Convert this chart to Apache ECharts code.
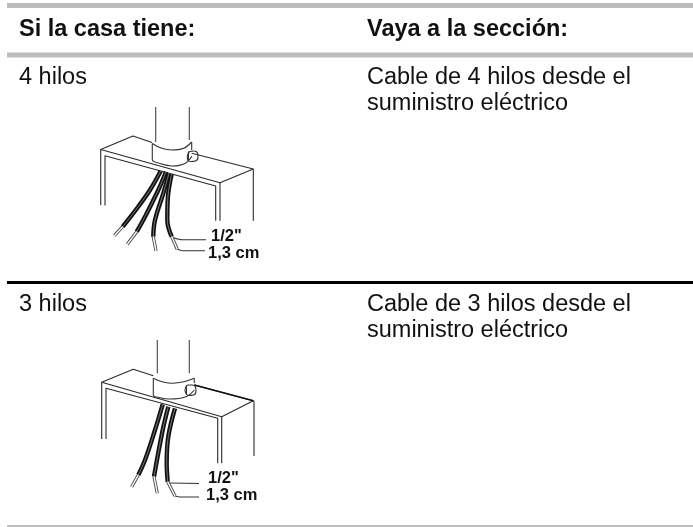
<!DOCTYPE html>
<html>
<head>
<meta charset="utf-8">
<style>
html,body{margin:0;padding:0;background:#fff}
#main{width:693px;height:527px}
</style>
<script src="https://cdn.jsdelivr.net/npm/echarts@6/dist/echarts.min.js"></script>
</head>
<body>
<div id="main"></div>
<script>
// table text
const headers = ['Si la casa tiene:', 'Vaya a la sección:'];
const rowLabels = ['4 hilos', '3 hilos'];
const rowTargets = [
  ['Cable de 4 hilos desde el', 'suministro eléctrico'],
  ['Cable de 3 hilos desde el', 'suministro eléctrico']
];
const dimInch = '1/2"';
const dimCm = '1,3 cm';

// table rules
const ruleGrey = [[[7, 5.5], [693, 5.5]], [[7, 55], [693, 55]]];
const ruleBlack = [[[7, 282.5], [693, 282.5]]];
const ruleThin = [[[7, 526], [693, 526]]];

// first drawing, 4 wires (page pixels)
const box4 = [
  [[100.7, 205], [100.7, 149.5], [133, 136], [152, 142.5]],
  [[191.7, 153.3], [253.3, 169], [220, 182.7], [100.7, 149.5]],
  [[105, 205.5], [105, 155.7], [215.7, 186], [215.7, 220.7]],
  [[220, 182.7], [220, 220.7]],
  [[253.3, 169], [253.3, 220.7]]
];
const pipe4 = [
  [[155.7, 107], [155.7, 142]],
  [[189.3, 107], [189.3, 140]]
];
const collar4 = [
  [[152.3, 143.5], [161, 148], [172, 150], [183, 148.5], [191.7, 142]],
  [[152.3, 143.5], [152.3, 159.5], [160, 163.5], [172, 166], [185, 163.5], [192, 156]],
  [[191.7, 142], [191.7, 150]]
];
const screw4 = [[187.3, 156], [190, 151.5], [194, 151], [197.5, 153], [198, 157], [195.5, 161], [191, 161.5], [187.5, 159.5], [187.3, 156]];
const screwSlot4 = [[[188.5, 151.5], [188.5, 161]]];
const wires4 = [
  [[160.7, 171], [150, 190], [138, 207], [126.7, 221.7], [122.7, 226.7]],
  [[166, 171.7], [158.3, 190], [145, 216.7], [136.7, 231.7]],
  [[169, 173.3], [163.3, 193.3], [155, 220], [153.3, 236.7]],
  [[171.7, 174], [167.7, 200], [167.3, 220], [171.7, 236.7]]
];
const tips4 = [
  [[122.7, 226.7], [114.3, 235.7]],
  [[136.7, 231.7], [127.3, 244.3]],
  [[153.3, 236.7], [156, 251]],
  [[171.7, 236.7], [177.3, 249.3]]
];
const leaders4 = [
  [[173.3, 237.7], [182, 239.7], [206, 239.7]],
  [[177.3, 249.3], [182, 250.7], [205, 250.7]]
];

// second drawing, 3 wires
const box3 = [
  [[101.7, 439], [101.7, 382.3], [133.3, 369.3], [153.3, 375.7]],
  [[194.3, 385], [253.3, 400.7], [221.7, 416.7], [101.7, 382.3]],
  [[106, 439], [106, 388.3], [217.7, 418.3], [217.7, 463.3]],
  [[221.7, 416.7], [221.7, 463.3]],
  [[254, 400.7], [254, 456]]
];
const boxDark3 = [[194.3, 385], [253.3, 400.7]];
const pipe3 = [
  [[157.3, 340], [157.3, 373.3]],
  [[189.3, 340], [189.3, 373.3]]
];
const collar3 = [
  [[153.3, 378.3], [162, 381.7], [173, 383.3], [184, 381.7], [194.3, 378.3]],
  [[153.3, 378.3], [153.3, 395], [160, 397.7], [170, 399], [186, 396.7], [194.3, 390]],
  [[194.3, 378.3], [194.3, 383]]
];
const screw3 = [[185, 390], [188, 385], [192, 385], [195.5, 387], [196, 391], [193.5, 395], [189, 395.5], [186, 393.5], [185, 390]];
const screwSlot3 = [[[186.5, 385.5], [186.5, 395]]];
const wires3 = [
  [[162.7, 404.3], [155, 430], [145, 460], [138.3, 475]],
  [[168.3, 406.7], [162.7, 430], [154, 476.7]],
  [[175, 408.3], [168.3, 436.7], [166.7, 463.3], [167.7, 481.7]]
];
const tips3 = [
  [[138.3, 475], [131.7, 486.7]],
  [[154, 476.7], [157.3, 493.3]],
  [[167.7, 481.7], [175, 496]]
];
const leaders3 = [
  [[170, 483], [199, 483.5]],
  [[175, 496], [180, 497], [199, 497]]
];

const BLACK = '#111111', GREY = '#bdbdbd';

function strokes(paths, color, width, smooth, z) {
  return paths.map(p => ({
    type: 'line', data: p, showSymbol: false, symbol: 'none', smooth: smooth || false,
    silent: true, animation: false, z: z || 2,
    lineStyle: { color: color, width: width, cap: 'butt', join: 'round' }
  }));
}
// a wire is a black band with a fine light stripe on it
function wireSeries(wires, tips) {
  return [].concat(
    strokes(wires, BLACK, 4.4, 0.4, 5),
    strokes(wires, '#bbbbbb', 0.6, 0.4, 6),
    strokes(tips, '#444444', 3.2, false, 5),
    strokes(tips, '#ffffff', 1.4, false, 6)
  );
}

const series = [].concat(
  strokes(ruleGrey, GREY, 5),
  strokes(ruleBlack, '#000000', 3),
  strokes(ruleThin, GREY, 2),
  strokes(box4, '#2a2a2a', 1.1),
  strokes(pipe4, '#444444', 1.1),
  strokes(collar4, '#333333', 1.1, 0.4),
  strokes([screw4], '#333333', 1.1, 0.5),
  strokes(screwSlot4, '#333333', 1),
  wireSeries(wires4, tips4),
  strokes(leaders4, '#333333', 1.1, 0.2),
  strokes(box3, '#2a2a2a', 1.1),
  strokes([boxDark3], '#111111', 1.6),
  strokes(pipe3, '#444444', 1.1),
  strokes(collar3, '#333333', 1.1, 0.4),
  strokes([screw3], '#333333', 1.1, 0.5),
  strokes(screwSlot3, '#333333', 1),
  wireSeries(wires3, tips3),
  strokes(leaders3, '#333333', 1.1, 0.2)
);

function label(text, x, y, size, bold) {
  return {
    type: 'text', silent: true,
    style: { text: text, x: x, y: y, fill: '#111111', textVerticalAlign: 'middle',
      font: (bold ? 'bold ' : '') + size + 'px "Liberation Sans", Arial, sans-serif' }
  };
}

const myChart = echarts.init(document.getElementById('main'), null, { renderer: 'canvas' });
myChart.setOption({
  animation: false,
  backgroundColor: '#ffffff',
  grid: { left: 0, right: 0, top: 0, bottom: 0 },
  xAxis: { type: 'value', min: 0, max: 693, show: false },
  yAxis: { type: 'value', min: 0, max: 527, inverse: true, show: false },
  series: series,
  graphic: [
    label(headers[0], 19, 30, 23.5, true),
    label(headers[1], 367, 30, 23.5, true),
    label(rowLabels[0], 19, 78, 23.5),
    label(rowTargets[0][0], 367, 78, 23.5),
    label(rowTargets[0][1], 367, 104, 23.5),
    label(rowLabels[1], 19, 305, 23.5),
    label(rowTargets[1][0], 367, 305, 23.5),
    label(rowTargets[1][1], 367, 331, 23.5),
    label(dimInch, 211, 236, 16.5, true),
    label(dimCm, 208, 253, 16.5, true),
    label(dimInch, 208, 478, 16.5, true),
    label(dimCm, 206, 495, 16.5, true)
  ]
});
</script>
</body>
</html>
